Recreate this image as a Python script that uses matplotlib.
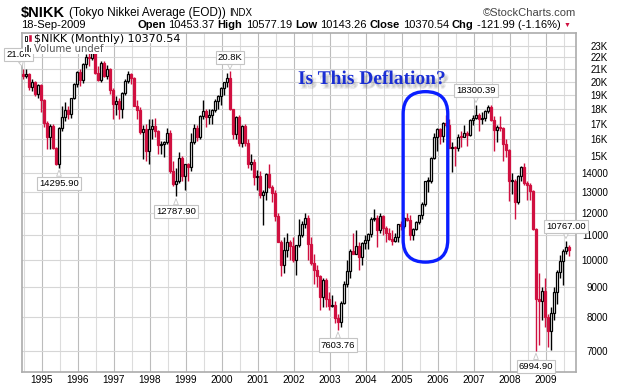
import numpy as np
import pandas as pd
import matplotlib
matplotlib.use("Agg")
import matplotlib.pyplot as plt
import matplotlib.patheffects as pe
from matplotlib.patches import Rectangle, FancyBboxPatch
from matplotlib.transforms import IdentityTransform
from matplotlib.ticker import NullLocator

# Monthly bars of the Nikkei 225, Jul-1994 .. Sep-2009
months = pd.date_range("1994-07-01", "2009-09-01", freq="MS")

opens = [
    20643, 20449, 20629, 19564, 19990, 19076,  # 1994 (Jul-Dec)
    19723, 18650, 17053, 16140, 16807, 15437, 14517, 16678, 17410, 17913, 17655, 18744,  # 1995
    19868, 20813, 20125, 21407, 22041, 21956, 22531, 20693, 20167, 21556, 20466, 21020,  # 1996
    19361, 18330, 18557, 18003, 19151, 20069, 20605, 20331, 18229, 17888, 16459, 16636,  # 1997
    15259, 16628, 16832, 16527, 15641, 15671, 15830, 16379, 14108, 13406, 13565, 14883,  # 1998
    13842, 14499, 14368, 15837, 16702, 16112, 17530, 17862, 17437, 17605, 17942, 18558,  # 1999
    18934, 19540, 19960, 20337, 17974, 16332, 17411, 15727, 16861, 15747, 14540, 14649,  # 2000
    13786, 13843, 12883, 12999, 13934, 13262, 12969, 11861, 10714, 9775, 10366, 10697,  # 2001
    10543, 9998, 10588, 11025, 11493, 11764, 10622, 9878, 9619, 9383, 8640, 9216,  # 2002
    8579, 8340, 8363, 7973, 7831, 8425, 9083, 9563, 10344, 10219, 10560, 10101,  # 2003
    10677, 10784, 11042, 11715, 11762, 11236, 11859, 11326, 11082, 10824, 10771, 10899,  # 2004
    11489, 11388, 11741, 11668, 11009, 11277, 11584, 11900, 12414, 13574, 13607, 14872,  # 2005
    16111, 16650, 16205, 17060, 16906, 15467, 15505, 15457, 16141, 16128, 16399, 16274,  # 2006
    17226, 17383, 17604, 17288, 17400, 17876, 18138, 17249, 16569, 16786, 16737, 15681,  # 2007
    15308, 13592, 13603, 12526, 13850, 14339, 13481, 13377, 13073, 11260, 8577, 8512,  # 2008
    8860, 7994, 7568, 8110, 8828, 9523, 9958, 10357, 10493,  # 2009 (Jan-Sep)
]
highs = [
    21050, 21000, 20700, 20200, 20100, 19800,
    19800, 18700, 17200, 17000, 17000, 15500, 16800, 18200, 18500, 18200, 18800, 19900,
    20900, 21000, 21500, 22300, 22500, 22750, 22600, 21300, 21700, 21700, 21400, 21100,
    19500, 18900, 18800, 19200, 20200, 20900, 20700, 20400, 18600, 18100, 16900, 17000,
    17300, 17300, 17400, 16600, 15900, 15900, 16700, 16600, 14700, 14300, 15200, 15000,
    14500, 14600, 16400, 17000, 16900, 17600, 18600, 18000, 18000, 18000, 18700, 19000,
    19600, 20000, 20700, 20833, 18000, 17500, 17600, 16900, 17000, 16000, 15100, 14800,
    14200, 14100, 13100, 14000, 14500, 13400, 13100, 12000, 10800, 10900, 11100, 10800,
    10900, 10600, 11700, 11600, 11980, 11900, 10900, 10200, 9800, 9400, 9300, 9300,
    8800, 8700, 8500, 8100, 8500, 9200, 10000, 10400, 11100, 11200, 10700, 10700,
    11000, 11100, 11800, 12200, 11900, 12000, 11900, 11400, 11300, 11200, 11100, 11500,
    11600, 11800, 12000, 11900, 11300, 11600, 11900, 12500, 13600, 13800, 14900, 16400,
    16700, 16700, 17100, 17563, 17300, 15800, 15600, 16300, 16500, 16900, 16500, 17300,
    17600, 18300, 17700, 17800, 17900, 18297, 18262, 17500, 16900, 17500, 16800, 16000,
    15400, 14000, 13700, 13900, 14400, 14601, 13600, 13500, 13100, 11300, 9500, 9000,
    9300, 8100, 8300, 9000, 9600, 10170, 10400, 10767, 10600,
]
lows = [
    20200, 20300, 19400, 19300, 18900, 18800,
    17785, 16800, 15400, 15381, 15400, 14485, 14296, 16500, 17200, 17300, 17400, 18700,
    19600, 19700, 19900, 21100, 21300, 21800, 20600, 20100, 20000, 20400, 20200, 19100,
    17300, 17600, 17300, 17400, 19000, 19900, 19800, 18200, 17300, 16300, 14800, 14700,
    14500, 16000, 16100, 15100, 15100, 14900, 15700, 14000, 13300, 12788, 13500, 13600,
    13100, 13600, 14100, 15700, 15900, 16000, 17300, 16800, 17000, 17000, 17800, 18000,
    18300, 19000, 19600, 17900, 16000, 16000, 15600, 15500, 15600, 14300, 14200, 13400,
    13100, 12700, 11433, 12600, 13200, 12500, 11600, 10700, 9383, 9500, 10100, 10000,
    9900, 9420, 10500, 10900, 11300, 10000, 9800, 9100, 9000, 8200, 8300, 8300,
    8200, 8300, 7800, 7604, 7700, 8400, 9000, 9300, 10200, 10200, 9600, 9800,
    10400, 10400, 10900, 11600, 10500, 11100, 11000, 10700, 10800, 10600, 10700, 10700,
    11200, 11300, 11600, 10800, 10800, 11200, 11500, 11700, 12300, 13000, 13500, 14800,
    15300, 15700, 15800, 16800, 15600, 14045, 14400, 15300, 15500, 16100, 15600, 16200,
    16900, 17300, 16500, 17000, 17200, 17700, 17200, 15300, 15800, 16500, 14700, 14900,
    12573, 12900, 11691, 12400, 13600, 13400, 12600, 12600, 11200, 6995, 7163, 7900,
    7700, 7100, 7021, 7900, 8400, 9300, 9050, 10200, 10143,
]
closes = [
    20449, 20629, 19564, 19990, 19076, 19723,
    18650, 17053, 16140, 16807, 15437, 14517, 16678, 17410, 17913, 17655, 18744, 19868,
    20813, 20125, 21407, 22041, 21956, 22531, 20693, 20167, 21556, 20466, 21020, 19361,
    18330, 18557, 18003, 19151, 20069, 20605, 20331, 18229, 17888, 16459, 16636, 15259,
    16628, 16832, 16527, 15641, 15671, 15830, 16379, 14108, 13406, 13565, 14883, 13842,
    14499, 14368, 15837, 16702, 16112, 17530, 17862, 17437, 17605, 17942, 18558, 18934,
    19540, 19960, 20337, 17974, 16332, 17411, 15727, 16861, 15747, 14540, 14649, 13786,
    13843, 12883, 12999, 13934, 13262, 12969, 11861, 10714, 9775, 10366, 10697, 10543,
    9998, 10588, 11025, 11493, 11764, 10622, 9878, 9619, 9383, 8640, 9216, 8579,
    8340, 8363, 7973, 7831, 8425, 9083, 9563, 10344, 10219, 10560, 10101, 10677,
    10784, 11042, 11715, 11762, 11236, 11859, 11326, 11082, 10824, 10771, 10899, 11489,
    11388, 11741, 11668, 11009, 11277, 11584, 11900, 12414, 13574, 13607, 14872, 16111,
    16650, 16205, 17060, 16906, 15467, 15505, 15457, 16141, 16128, 16399, 16274, 17226,
    17383, 17604, 17288, 17400, 17876, 18138, 17249, 16569, 16786, 16737, 15681, 15308,
    13592, 13603, 12526, 13850, 14339, 13481, 13377, 13073, 11260, 8577, 8512, 8860,
    7994, 7568, 8110, 8828, 9523, 9958, 10357, 10493, 10370,
]

# price flags: (month, text, side)
flag_months = ["1994-07", "1995-07", "1998-10", "2000-04", "2003-04", "2007-02", "2008-10", "2009-08"]
flag_texts = ["21.0K", "14295.90", "12787.90", "20.8K", "7603.76", "18300.39", "6994.90", "10767.00"]
flag_sides = ["high", "low", "low", "high", "low", "high", "low", "high"]

year_ticks = list(range(1995, 2010))
price_ticks = [7000, 8000, 9000, 10000, 11000, 12000, 13000, 14000,
               15000, 16000, 17000, 18000, 19000, 20000, 21000, 22000, 23000]
price_labels = ["7000", "8000", "9000", "10000", "11000", "12000", "13000", "14000",
                "15K", "16K", "17K", "18K", "19K", "20K", "21K", "22K", "23K"]

RED = "#d01040"
W, H = 627, 387
tick_font = "Liberation Sans"

fig = plt.figure(figsize=(W / 100, H / 100), dpi=100)
ax = fig.add_axes([21.7 / W, 1 - 372 / H, (576 - 21.7) / W, (372 - 33) / H])

o = np.array(opens, float)
hi = np.array(highs, float)
lo = np.array(lows, float)
c = np.array(closes, float)
x = months.year + (months.month - 1) / 12 - 0.02
prev = np.concatenate([[o[0]], c[:-1]])

# red when the close is below the previous close, filled when close < open
col = np.where(c < prev, RED, "black")
filled = c < o

ax.vlines(x, lo, hi, colors=col, lw=1.0, zorder=2)
bw = 0.075
bot = np.minimum(o, c)
top = np.maximum(o, c)
top = np.where(top / bot < 1.003, bot * 1.003, top)
face = [cc if f else "white" for cc, f in zip(col, filled)]
ax.bar(x, top - bot, bottom=bot, width=bw, color=face, edgecolor=col, lw=0.9, zorder=3)

ax.set_yscale("log")
ax.set_xlim(1994.444, 2009.842)
ax.set_ylim(6449, 24198)

ax.yaxis.tick_right()
ax.set_yticks(price_ticks)
ax.set_yticklabels(price_labels)
ax.yaxis.set_minor_locator(NullLocator())
for t in ax.get_yticklabels():
    t.set_horizontalalignment("right")
ax.tick_params(axis="y", length=0, pad=23, labelsize=7, labelcolor="black")

ax.set_xticks(year_ticks)
ax.set_xticklabels([str(y) for y in year_ticks])
ax.set_xticks([y + 0.5 for y in range(1994, 2010)], minor=True)
ax.tick_params(axis="x", which="both", length=0, pad=2.5, labelsize=7.3)

ax.grid(axis="y", which="major", color="#d6d6d6", lw=0.8)
ax.grid(axis="x", which="major", color="#bcbcbc", lw=0.8)
ax.grid(axis="x", which="minor", color="#dcdcdc", lw=0.8)
ax.set_axisbelow(True)
for s in ax.spines.values():
    s.set_color("#acacac")
    s.set_linewidth(1.2)

for t in ax.get_xticklabels() + ax.get_yticklabels():
    t.set_family(tick_font)

# price flags
month_keys = list(months.strftime("%Y-%m"))
for m, txt, side in zip(flag_months, flag_texts, flag_sides):
    i = month_keys.index(m)
    yv = hi[i] if side == "high" else lo[i]
    dy = 10 if side == "high" else -11
    dx = -3 if i == 0 else 0
    ax.annotate(txt, (x[i], yv), xytext=(dx, dy), textcoords="offset points",
                ha="center", va="center", fontsize=6.8, family=tick_font, zorder=6,
                bbox=dict(boxstyle="square,pad=0.22", fc="white", ec="#c4c4c4", lw=0.8),
                arrowprops=dict(arrowstyle="wedge,tail_width=0.5,shrink_factor=0.5",
                                fc="white", ec="#c4c4c4", lw=0.6, shrinkA=0, shrinkB=1.5),
                annotation_clip=False)

# the deflation oval
p0 = ax.transData.transform((2005.04, 9900))
p1 = ax.transData.transform((2006.28, 19250))
w, h = p1[0] - p0[0], p1[1] - p0[1]
oval = FancyBboxPatch((p0[0], p0[1]), w, h, boxstyle=f"round,pad=0,rounding_size={w / 2}",
                      transform=IdentityTransform(), fill=False, ec="#0a1eff", lw=2.4, zorder=8)
fig.add_artist(oval)

# soft shadow made of a few faint offset copies
shadow_offsets = [(0.5, -1.5), (1.5, -2.5), (2.5, -3.0), (1.5, -3.5), (3.0, -2.0)]
fig.text(298 / W, 1 - 84 / H, "Is This Deflation?", family="Liberation Serif", weight="bold",
         fontsize=14, color="#1a2ed4", va="baseline", zorder=9,
         path_effects=[pe.SimplePatchShadow(offset=d, shadow_rgbFace="#777777", alpha=0.12)
                       for d in shadow_offsets] + [pe.Normal()])


def pxrect(x0, ytop, ww, hh, **kw):
    r = Rectangle((x0, H - ytop - hh), ww, hh, transform=IdentityTransform(), **kw)
    fig.add_artist(r)
    return r


# legend block inside the plot
pxrect(22.5, 33.6, 162, 9.5, fc="white", ec="none", zorder=10)
pxrect(22.5, 43.1, 82, 10.5, fc="white", ec="none", zorder=10)
pxrect(24.5, 35.5, 2.2, 5.5, fc="white", ec="black", lw=0.6, zorder=11)
pxrect(28.5, 34.5, 2.2, 6.5, fc=RED, ec=RED, lw=0.4, zorder=11)
for bx, bh in zip([24.5, 27, 29.5], [5, 7, 4]):
    pxrect(bx, 52 - bh, 1.6, bh, fc="#555555", ec="none", zorder=11)
fig.text(34 / W, 1 - 38.5 / H, "$NIKK (Monthly) 10370.54", fontsize=8, va="center", zorder=12)
fig.text(34 / W, 1 - 49.3 / H, "Volume undef", fontsize=7.3, color="#555555", va="center", zorder=12)

# header rows
renderer = fig.canvas.get_renderer()


def row(x0, y, pieces, gap=3.5):
    for txt, kw in pieces:
        t = fig.text(x0 / W, 1 - y / H, txt, va="center", family="Liberation Sans", **kw)
        bb = t.get_window_extent(renderer)
        x0 = bb.x1 + gap


row(21, 13, [("$NIKK", dict(fontsize=10.5, weight="bold")),
             ("(Tokyo Nikkei Average (EOD))", dict(fontsize=8.5)),
             ("INDX", dict(fontsize=7))])
fig.text(576 / W, 1 - 13 / H, "\u00a9StockCharts.com", ha="right", va="center",
         family="Liberation Sans", fontsize=8, color="#444444")
fig.text(21 / W, 1 - 25.5 / H, "18-Sep-2009", va="center", family="Liberation Sans", fontsize=8)
row(137, 25.5, [("Open", dict(fontsize=8, weight="bold")), ("10453.37", dict(fontsize=8)),
                ("High", dict(fontsize=8, weight="bold")), ("10577.19", dict(fontsize=8)),
                ("Low", dict(fontsize=8, weight="bold")), ("10143.26", dict(fontsize=8)),
                ("Close", dict(fontsize=8, weight="bold")), ("10370.54", dict(fontsize=8)),
                ("Chg", dict(fontsize=8, weight="bold")), ("-121.99 (-1.16%)", dict(fontsize=8)),
                ("\u25bc", dict(fontsize=5, color=RED))], gap=3)

fig.savefig("out.png", dpi=100)
